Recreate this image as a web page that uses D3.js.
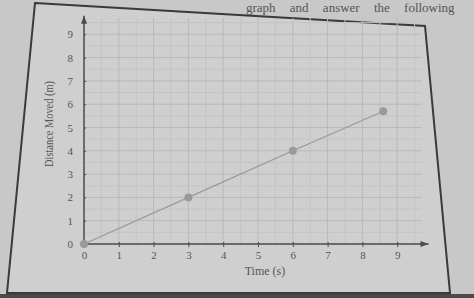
<!DOCTYPE html>
<html>
<head>
<meta charset="utf-8">
<script src="https://cdn.jsdelivr.net/npm/d3@7"></script>
<style>
  body { margin: 0; background: #c6c6c6; }
  svg { display: block; }
</style>
</head>
<body>
<div id="chart"></div>
<script>
var width = 474;
var height = 298;

// data
var timeValues = [0, 3, 6, 8.6];
var distanceValues = [0, 2, 4, 5.7];
var xTicks = [0, 1, 2, 3, 4, 5, 6, 7, 8, 9];
var yTicks = [0, 1, 2, 3, 4, 5, 6, 7, 8, 9];

var svg = d3.select("#chart").append("svg")
      .attr("width", width)
      .attr("height", height);

// paper, page frame and dark strip under it
svg.append("rect")
      .attr("width", width).attr("height", height)
      .attr("fill", "#c8c8c8");
svg.append("path")
      .attr("d", "M35,3 L425,26 L450,293 L7,293 Z")
      .attr("fill", "#cfcfcf")
      .attr("stroke", "#3a3a3a")
      .attr("stroke-width", 2);
svg.append("rect")
      .attr("x", 0).attr("y", 294)
      .attr("width", width).attr("height", 4)
      .attr("fill", "#4a4a4a");

// bit of the book text above the frame
svg.append("text")
      .attr("x", 246).attr("y", 12)
      .style("font-family", "'Liberation Serif', serif")
      .style("font-size", "13px")
      .style("fill", "#555")
      .style("word-spacing", "11px")
      .text("graph and answer the following");

var xScale = d3.scaleLinear()
      .domain([0, 10])
      .range([84, 432]);
var yScale = d3.scaleLinear()
      .domain([0, 10])
      .range([244, 11]);

// grid, half units
var grid = svg.append("g");
var halfSteps = d3.range(0.5, 10, 0.5);
grid.selectAll(".vline")
      .data(halfSteps)
      .enter().append("line")
      .attr("x1", d => xScale(d)).attr("x2", d => xScale(d))
      .attr("y1", yScale(0)).attr("y2", yScale(9.7))
      .attr("stroke", d => d % 1 === 0 ? "#b9b9b9" : "#c4c4c4")
      .attr("stroke-width", 1);
grid.selectAll(".hline")
      .data(halfSteps)
      .enter().append("line")
      .attr("x1", xScale(0)).attr("x2", xScale(9.7))
      .attr("y1", d => yScale(d)).attr("y2", d => yScale(d))
      .attr("stroke", d => d % 1 === 0 ? "#b9b9b9" : "#c4c4c4")
      .attr("stroke-width", 1);

// axes
var xAxis = d3.axisBottom(xScale)
      .tickValues(xTicks)
      .tickSizeInner(3)
      .tickSizeOuter(0)
      .tickPadding(4);
var yAxis = d3.axisLeft(yScale)
      .tickValues(yTicks)
      .tickSizeInner(3)
      .tickSizeOuter(0)
      .tickPadding(8);

var xAxisGroup = svg.append("g")
      .attr("transform", "translate(0," + yScale(0) + ")")
      .call(xAxis);
var yAxisGroup = svg.append("g")
      .attr("transform", "translate(" + xScale(0) + ",0)")
      .call(yAxis);

[xAxisGroup, yAxisGroup].forEach(function(g) {
      g.select(".domain").remove();
      g.selectAll(".tick line").attr("stroke", "#4a4a4a");
      g.selectAll(".tick text")
            .style("font-family", "'Liberation Serif', serif")
            .style("font-size", "11px")
            .attr("fill", "#555");
});
xAxisGroup.selectAll(".tick line").attr("y1", -2);
yAxisGroup.selectAll(".tick line").attr("x2", 2);

// axis lines with arrow heads
svg.append("line")
      .attr("x1", xScale(0)).attr("x2", xScale(9.9))
      .attr("y1", yScale(0)).attr("y2", yScale(0))
      .attr("stroke", "#4a4a4a").attr("stroke-width", 1.5);
svg.append("line")
      .attr("x1", xScale(0)).attr("x2", xScale(0))
      .attr("y1", yScale(0)).attr("y2", yScale(9.8))
      .attr("stroke", "#4a4a4a").attr("stroke-width", 1.5);
svg.append("path")
      .attr("d", "M" + xScale(9.9) + "," + yScale(0) + " l-8,-3 l0,6 Z")
      .attr("fill", "#4a4a4a");
svg.append("path")
      .attr("d", "M" + xScale(0) + "," + yScale(9.8) + " l-3,8 l6,0 Z")
      .attr("fill", "#4a4a4a");

// axis titles
svg.append("text")
      .attr("x", 265)
      .attr("y", 275)
      .style("text-anchor", "middle")
      .style("font-family", "'Liberation Serif', serif")
      .style("font-size", "12px")
      .style("fill", "#555")
      .text("Time (s)");
svg.append("text")
      .attr("transform", "rotate(-90)")
      .attr("x", -124)
      .attr("y", 53)
      .style("text-anchor", "middle")
      .style("font-family", "'Liberation Serif', serif")
      .style("font-size", "12px")
      .style("fill", "#555")
      .attr("textLength", 86)
      .attr("lengthAdjust", "spacingAndGlyphs")
      .text("Distance Moved (m)");

// the line and points
var points = timeValues.map((t, i) => ({ t: t, d: distanceValues[i] }));
var line = d3.line()
      .x(p => xScale(p.t))
      .y(p => yScale(p.d));
svg.append("path")
      .datum(points)
      .attr("d", line)
      .attr("fill", "none")
      .attr("stroke", "#999")
      .attr("stroke-width", 1.2);
svg.selectAll(".pt")
      .data(points)
      .enter().append("circle")
      .attr("cx", p => xScale(p.t))
      .attr("cy", p => yScale(p.d))
      .attr("r", 4)
      .attr("fill", "#9a9a9a");
</script>
</body>
</html>
